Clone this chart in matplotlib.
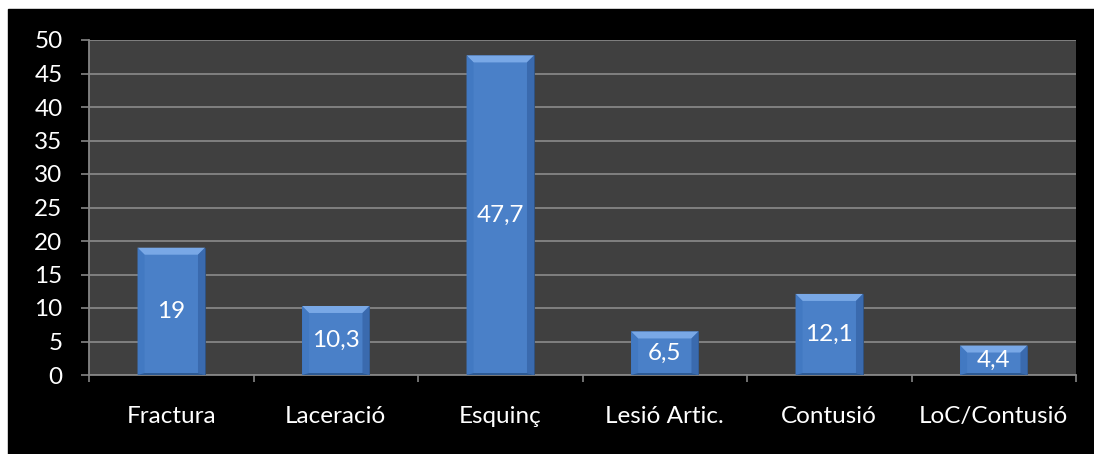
import numpy as np
import matplotlib.pyplot as plt
from matplotlib.patches import Rectangle, Polygon
from matplotlib.transforms import IdentityTransform

categories = ["Fractura", "Laceració", "Esquinç", "Lesió Artic.", "Contusió", "LoC/Contusió"]
values = [19, 10.3, 47.7, 6.5, 12.1, 4.4]
value_labels = ["19", "10,3", "47,7", "6,5", "12,1", "4,4"]
yticks = [0, 5, 10, 15, 20, 25, 30, 35, 40, 45, 50]

plt.rcParams['font.family'] = ['Lato', 'DejaVu Sans']
fs = 17.5

fig = plt.figure(figsize=(10.94, 4.54), dpi=100, facecolor='white')
# black panel behind the chart
fig.patches.append(Rectangle((8 / 1094, 0), 1 - 8 / 1094, 1 - 9 / 454,
                             transform=fig.transFigure, color='black', zorder=-5))

ax = fig.add_axes([89 / 1094, 79 / 454, 987 / 1094, 335 / 454])
ax.set_zorder(1)
ax.set_facecolor('#404040')

x = np.arange(len(categories))
bar_w = 0.41
bars = ax.bar(x, values, width=bar_w, color='#4a80c8', edgecolor='#2c5080',
              linewidth=0.6, zorder=3)

ax.set_xlim(-0.5, len(categories) - 0.5)
ax.set_ylim(0, 50)
ax.set_yticks(yticks)
ax.yaxis.grid(True, color='#858585', linewidth=1.3, zorder=0)
ax.set_axisbelow(True)

# category boundary ticks + labels centred in between
ax.set_xticks(np.arange(len(categories) + 1) - 0.5)
ax.set_xticklabels([])
ax.set_xticks(x, minor=True)
ax.set_xticklabels(categories, minor=True)
ax.tick_params(axis='x', which='major', length=5, width=1.2, color='#858585', direction='out')
ax.tick_params(axis='x', which='minor', length=0, pad=22, labelsize=fs, labelcolor='white')
ax.tick_params(axis='y', length=6, width=1.2, color='#858585', pad=13,
               labelsize=fs, labelcolor='white')

for s in ['top', 'right']:
    ax.spines[s].set_visible(False)
for s in ['left', 'bottom']:
    ax.spines[s].set_color('#858585')
    ax.spines[s].set_linewidth(1.3)

# bevel effect on each bar, in pixel space
d = 7
for b in bars:
    (x0, y0) = ax.transData.transform((b.get_x(), 0))
    (x1, y1) = ax.transData.transform((b.get_x() + b.get_width(), b.get_height()))
    dd = min(d, (y1 - y0) / 2)
    top = [(x0, y1), (x1, y1), (x1 - d, y1 - dd), (x0 + d, y1 - dd)]
    left = [(x0, y0), (x0, y1), (x0 + d, y1 - dd), (x0 + d, y0 + 2)]
    right = [(x1, y0), (x1, y1), (x1 - d, y1 - dd), (x1 - d, y0 + 2)]
    bottom = [(x0, y0), (x1, y0), (x1 - d, y0 + 2), (x0 + d, y0 + 2)]
    for pts, c in [(top, '#79a8e6'), (left, '#4279c2'), (right, '#3a6aae'), (bottom, '#2d5a94')]:
        ax.add_patch(Polygon(pts, closed=True, transform=IdentityTransform(),
                             facecolor=c, edgecolor='none', zorder=4, clip_on=False))

for xi, v, lab in zip(x, values, value_labels):
    ax.text(xi, v / 2, lab, ha='center', va='center', color='white',
            fontsize=fs, zorder=6)

fig.savefig('out.png', dpi=100, facecolor='white')
